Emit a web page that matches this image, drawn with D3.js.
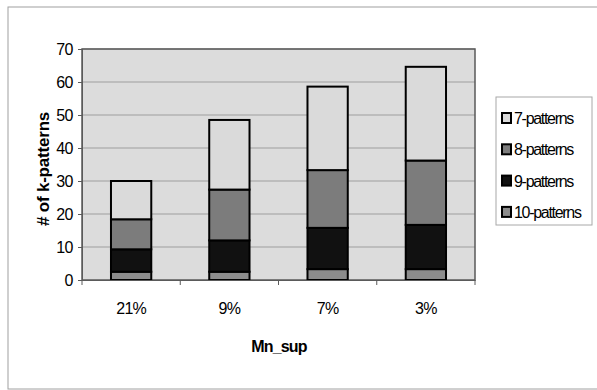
<!DOCTYPE html>
<html><head><meta charset="utf-8">
<script src="https://cdn.jsdelivr.net/npm/d3@7/dist/d3.min.js"></script>
<style>body{margin:0;background:#fff}svg{display:block;font-family:Arial,"Liberation Sans",sans-serif}</style>
</head><body><svg id="c" width="597" height="390"></svg>
<script>
const categories = ["21%", "9%", "7%", "3%"];
const seriesNames = ["10-patterns", "9-patterns", "8-patterns", "7-patterns"];
const p10 = [2.5, 2.5, 3.3, 3.3];
const p9 = [6.8, 9.5, 12.5, 13.4];
const p8 = [9.1, 15.4, 17.5, 19.5];
const p7 = [11.6, 21.1, 25.3, 28.4];
const yTicks = [0, 10, 20, 30, 40, 50, 60, 70];
const legendOrder = ["7-patterns", "8-patterns", "9-patterns", "10-patterns"];

const colors = {"7-patterns": "#dadada", "8-patterns": "#7c7c7c", "9-patterns": "#111111", "10-patterns": "#8c8c8c"};
const seriesVals = {"10-patterns": p10, "9-patterns": p9, "8-patterns": p8, "7-patterns": p7};

const svg = d3.select("#c");
svg.append("rect").attr("x", 8).attr("y", 7).attr("width", 600).attr("height", 382)
  .attr("fill", "#fff").attr("stroke", "#a0a0a0").attr("stroke-width", 1);

const L = 82, R = 475, T = 49, B = 280;
const x = d3.scaleBand().domain(categories).range([L, R]).paddingInner(0.59).paddingOuter(0.295);
const xb = d3.scaleBand().domain(categories).range([L, R]);
const y = d3.scaleLinear().domain([0, 70]).range([B, T]);

svg.append("rect").attr("x", L).attr("y", T).attr("width", R - L).attr("height", B - T)
  .attr("fill", "#dcdcdc");
svg.append("g").selectAll("line").data(yTicks.slice(1)).join("line")
  .attr("x1", L).attr("x2", R).attr("y1", d => y(d)).attr("y2", d => y(d))
  .attr("stroke", "#9e9e9e").attr("stroke-width", 1);
svg.append("rect").attr("x", L).attr("y", T).attr("width", R - L).attr("height", B - T)
  .attr("fill", "none").attr("stroke", "#5a5a5a").attr("stroke-width", 1.5);

const table = categories.map((c, i) => {
  const o = {cat: c};
  seriesNames.forEach(s => o[s] = seriesVals[s][i]);
  return o;
});
const stack = d3.stack().keys(seriesNames)(table);
svg.append("g").selectAll("g").data(stack).join("g")
  .attr("fill", d => colors[d.key])
  .selectAll("rect").data(d => d).join("rect")
  .attr("x", d => x(d.data.cat)).attr("width", x.bandwidth())
  .attr("y", d => y(d[1])).attr("height", d => y(d[0]) - y(d[1]))
  .attr("stroke", "#000").attr("stroke-width", 2);

const ya = svg.append("g").attr("transform", `translate(${L},0)`)
  .call(d3.axisLeft(y).tickValues(yTicks).tickSize(4).tickPadding(5));
ya.select(".domain").attr("stroke", "#5a5a5a");
ya.selectAll(".tick line").attr("stroke", "#5a5a5a");
ya.selectAll("text").attr("font-size", 16).attr("letter-spacing", -0.5).attr("fill", "#000").attr("font-family", "Arial, 'Liberation Sans', sans-serif");

const xa = svg.append("g").attr("transform", `translate(0,${B})`)
  .call(d3.axisBottom(xb).tickSize(0).tickPadding(23));
xa.select(".domain").attr("stroke", "#5a5a5a");
xa.selectAll("text").attr("font-size", 16).attr("letter-spacing", -0.8).attr("fill", "#000").attr("font-family", "Arial, 'Liberation Sans', sans-serif");
svg.append("g").selectAll("line").data(d3.range(categories.length + 1)).join("line")
  .attr("x1", i => L + i * xb.step()).attr("x2", i => L + i * xb.step())
  .attr("y1", B).attr("y2", B + 5).attr("stroke", "#5a5a5a");

svg.append("text").attr("x", 279).attr("y", 352).attr("text-anchor", "middle")
  .attr("font-size", 16).attr("font-weight", "bold").attr("letter-spacing", -0.8).text("Mn_sup");
svg.append("text").attr("transform", "translate(49,169) rotate(-90)").attr("text-anchor", "middle")
  .attr("font-size", 17).attr("font-weight", "bold").attr("letter-spacing", -0.2).text("# of k-patterns");

const lg = svg.append("g");
lg.append("rect").attr("x", 496).attr("y", 97).attr("width", 96).attr("height", 128)
  .attr("fill", "#fff").attr("stroke", "#a8a8a8");
const li = lg.selectAll("g").data(legendOrder).join("g")
  .attr("transform", (d, i) => `translate(502,${113 + i * 31.3})`);
li.append("rect").attr("width", 9).attr("height", 10).attr("fill", d => colors[d])
  .attr("stroke", "#000").attr("stroke-width", 2);
li.append("text").attr("x", 12).attr("y", 11).attr("font-size", 16).attr("letter-spacing", -1.3)
  .text(d => d);
</script></body></html>
